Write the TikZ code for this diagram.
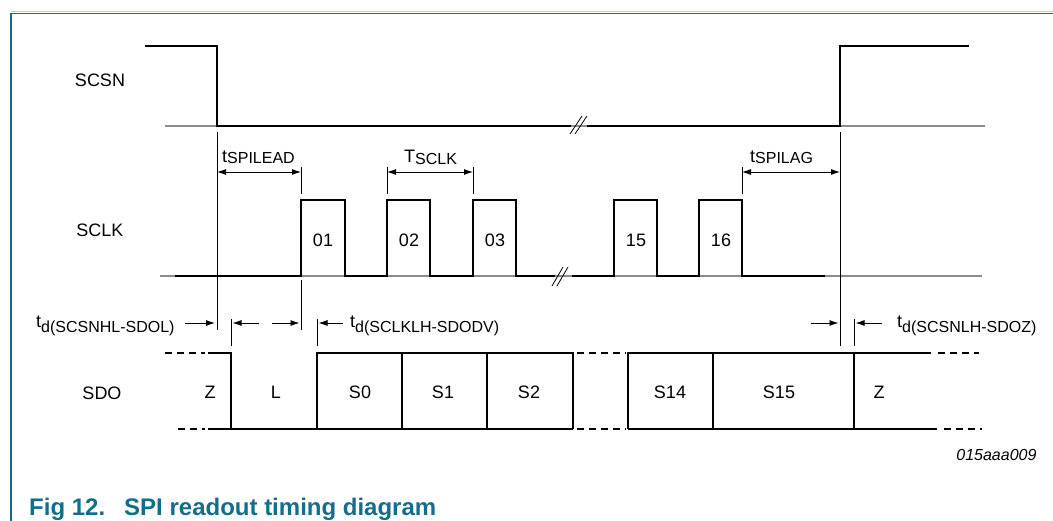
\documentclass[tikz,border=0pt]{standalone}
\usepackage{fontspec}
\setmainfont{Liberation Sans}
\usepackage{tikz}
\usetikzlibrary{positioning,arrows.meta}
\usepackage{xcolor}

\definecolor{figteal}{RGB}{18,110,138}
\definecolor{figlight}{RGB}{178,208,222}

\newcommand{\lowsub}[2][2pt]{\raisebox{-#1}{\fontsize{16}{16}\selectfont #2}}

\begin{document}
\begin{tikzpicture}[
    x=1pt, y=-1pt,
    font=\fontsize{18}{20}\selectfont,
    wave/.style={line width=2.6pt},
    refline/.style={line width=1.3pt, black!45},
    guide/.style={line width=0.9pt},
    arrow/.style={-{Latex[length=9pt, width=6pt]}, line width=0.9pt},
    twoway/.style={{Latex[length=9pt, width=6pt]}-{Latex[length=9pt, width=6pt]}, line width=0.9pt},
    gapline/.style={line width=2.6pt, dash pattern=on 7pt off 5pt},
    slash/.style={line width=0.8pt},
    timing/.style={anchor=base west, inner sep=0pt}
]

\useasboundingbox (0,0) rectangle (1053,521);

% frame
\draw[figlight, line width=1pt] (11,11.5) -- (1053,11.5);
\draw[figteal, line width=1.4pt] (11,521) -- (11,13.5) -- (1053,13.5);

% signal names
\node (scsn) at (100,80) {SCSN};
\node (sclk) at (100,230) {SCLK};
\node (sdo) at (102,393) {SDO};

% SCSN
\draw[refline] (165,126) -- (985,126);
\draw[wave] (145,46) -| (217,126) -- (571,126);
\draw[wave] (587,126) -| (840,46) -- (969,46);
\draw[slash] (570,134) -- (582,116) (575,134) -- (587,116);

% SCLK
\draw[refline] (160,276) -- (982,276);
\draw[wave] (175,276) -- (301,276) |- (345,200) |- (387,276) |- (430,200)
    |- (473,276) |- (516,200) |- (555,276);
\draw[wave] (572,276) -- (614,276) |- (657,200) |- (699,276) |- (742,200) |- (825,276);
\draw[slash] (552,286) -- (563,267) (557,286) -- (568,267);
\foreach \x/\n in {323/01, 409/02, 495/03, 636/15, 721/16}
  \node (p\n) at (\x,240) {\n};

% guide lines
\draw[guide] (217,132) -- (217,330);
\draw[guide] (301,167) -- (301,194) (301,280) -- (301,330);
\draw[guide] (387,167) -- (387,194);
\draw[guide] (473,167) -- (473,194);
\draw[guide] (742,167) -- (742,194);
\draw[guide] (840,132) -- (840,346);
\draw[guide] (231,319) -- (231,346);
\draw[guide] (317,319) -- (317,346);
\draw[guide] (854,319) -- (854,346);

% SPI lead, period, lag
\coordinate (lead0) at (217,172);
\coordinate (lead1) at (301,172);
\coordinate (per0) at (387,172);
\coordinate (per1) at (473,172);
\coordinate (lag0) at (742,172);
\coordinate (lag1) at (840,172);
\draw[twoway] (lead0) -- (lead1);
\draw[twoway] (per0) -- (per1);
\draw[twoway] (lag0) -- (lag1);
\node[timing] (tlead) at (222,163) {t\lowsub[1pt]{SPILEAD}};
\node[timing] (tper) at (404,163) {T\lowsub[1.5pt]{SCLK}};
\node[timing] (tlag) at (750,163) {t\lowsub[1pt]{SPILAG}};

% SDO delays
\coordinate (dl0) at (185,323);
\coordinate (dl1) at (215,323);
\coordinate (dl2) at (259,323);
\coordinate (dl3) at (232.5,323);
\coordinate (dl4) at (272,323);
\coordinate (dl5) at (299.5,323);
\coordinate (dl6) at (343,323);
\coordinate (dl7) at (318.5,323);
\coordinate (dl8) at (811,323);
\coordinate (dl9) at (838.5,323);
\coordinate (dl10) at (882,323);
\coordinate (dl11) at (855.5,323);
\draw[arrow] (dl0) -- (dl1);
\draw[arrow] (dl2) -- (dl3);
\draw[arrow] (dl4) -- (dl5);
\draw[arrow] (dl6) -- (dl7);
\draw[arrow] (dl8) -- (dl9);
\draw[arrow] (dl10) -- (dl11);
\node[timing] (tdl) at (36,328) {t\lowsub[5pt]{d(SCSNHL-SDOL)}};
\node[timing] (tdv) at (350,328) {t\lowsub[5pt]{d(SCLKLH-SDODV)}};
\node[timing] (tdz) at (897,328) {t\lowsub[5pt]{d(SCSNLH-SDOZ)}};

% SDO
\draw[gapline] (165,353) -- (205,353);
\draw[gapline] (178,429) -- (205,429);
\draw[wave] (208,353) -| (231,429);
\draw[wave] (208,429) -- (573,429);
\draw[wave] (317,429) |- (573,353) -- (573,429);
\draw[wave] (402,353) -- (402,429) (487,353) -- (487,429);
\draw[gapline] (577,353) -- (626,353);
\draw[gapline] (577,429) -- (626,429);
\draw[wave] (628,429) |- (931,353);
\draw[wave] (628,429) -- (937,429);
\draw[wave] (713,353) -- (713,429) (854,353) -- (854,429);
\draw[gapline] (938,353) -- (979,353);
\draw[gapline] (944,429) -- (982,429);
\foreach \x/\n/\t in {210/z0/Z, 276/l0/L, 360/s0/S0, 443/s1/S1, 529/s2/S2,
    670/s14/S14, 779/s15/S15, 879/z1/Z}
  \node (\n) at (\x,392) {\t};

% id and caption
\node[anchor=east, font=\fontsize{16}{16}\selectfont\itshape] (figid) at (1040,455) {015aaa009};
\node[anchor=base west, inner sep=0pt, text=figteal, font=\fontsize{24}{24}\selectfont\bfseries]
    (caption) at (29,515) {Fig 12.\hspace{19pt}SPI readout timing diagram};

\end{tikzpicture}
\end{document}
